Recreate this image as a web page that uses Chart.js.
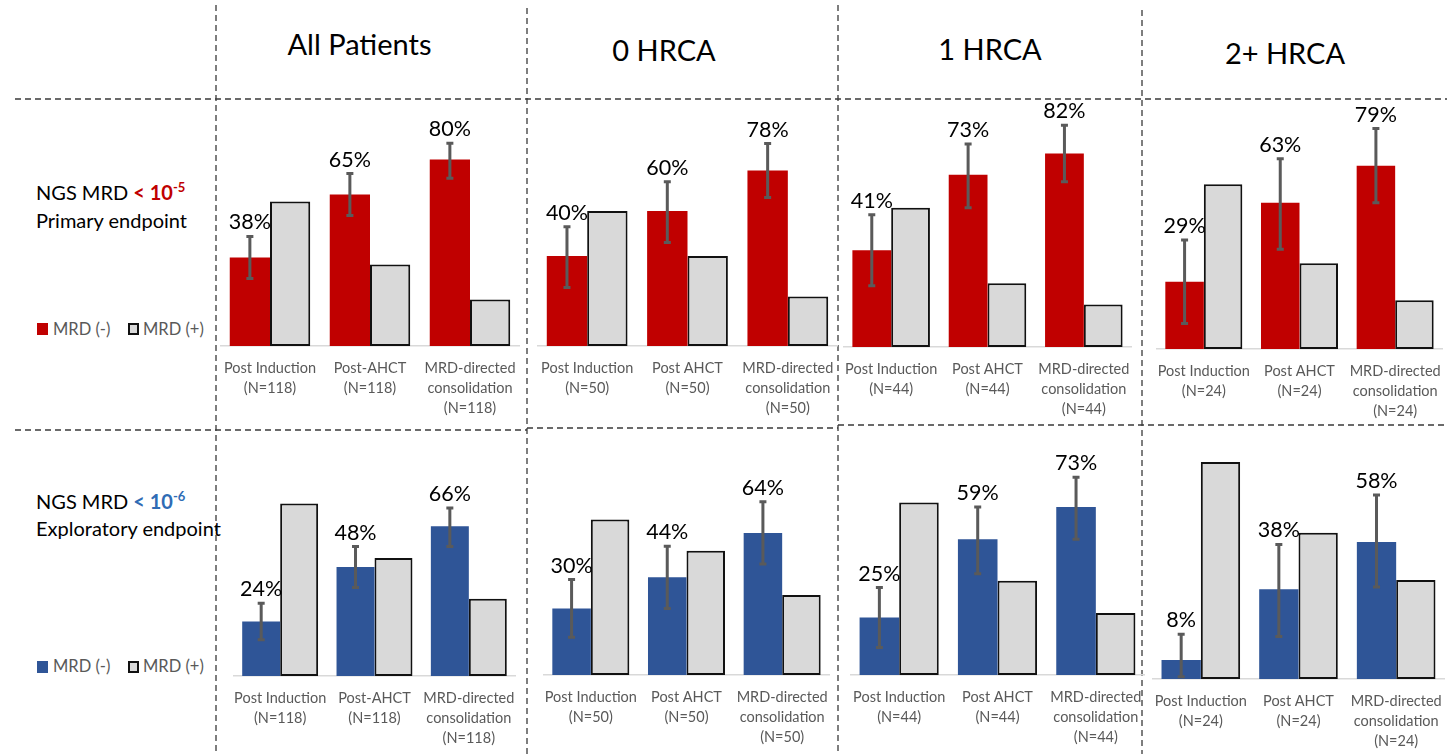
<!DOCTYPE html>
<html>
<head>
<meta charset="utf-8">
<script src="https://cdn.jsdelivr.net/npm/chart.js@4.4.1/dist/chart.umd.min.js"></script>
<style>
  html, body { margin: 0; padding: 0; background: #fff; overflow: hidden; }
  #fig { position: relative; width: 1447px; height: 754px; overflow: hidden; font-family: Lato, "Noto Sans", sans-serif; }
  #fig canvas { position: absolute; }
  #grid { position: absolute; left: 0; top: 0; }
  .hdr { position: absolute; font-size: 29px; line-height: 1; color: #000; transform: translate(-50%, -50%); white-space: nowrap; }
  .rowlab { position: absolute; left: 36px; font-size: 20px; line-height: 1; color: #000; white-space: nowrap; }
  .hl { font-weight: 700; }
  .hl .sup { position: relative; top: -8px; font-size: 13px; }
  .red { color: #c00000; }
  .blue { color: #2f6cb5; }
  .sw { position: absolute; width: 11px; height: 12px; box-sizing: border-box; }
  .sw.pos { background: #d9d9d9; border: 2px solid #111; }
  .lgt { position: absolute; font-size: 16.5px; line-height: 1; color: #595959; white-space: nowrap; }
</style>
</head>
<body>
<div id="fig">
  <svg id="grid" width="1447" height="754"></svg>

  <div class="hdr" style="left:359.5px; top:43px;">All Patients</div>
  <div class="hdr" style="left:664px; top:49px;">0 HRCA</div>
  <div class="hdr" style="left:990px; top:48px;">1 HRCA</div>
  <div class="hdr" style="left:1285px; top:52px;">2+ HRCA</div>

  <div class="rowlab" style="top:182px;">NGS MRD <span class="hl red">&lt; 10<span class="sup">-5</span></span></div>
  <div class="rowlab" style="top:209.5px;">Primary endpoint</div>
  <div class="rowlab" style="top:491px;">NGS MRD <span class="hl blue">&lt; 10<span class="sup">-6</span></span></div>
  <div class="rowlab" style="top:517.5px;">Exploratory endpoint</div>

  <div class="sw" style="left:37px; top:323.4px; background:#c00000;"></div>
  <div class="lgt" style="left:53px; top:320.6px;">MRD (-)</div>
  <div class="sw pos" style="left:127.5px; top:323.4px;"></div>
  <div class="lgt" style="left:143px; top:320.6px;">MRD (+)</div>

  <div class="sw" style="left:37px; top:661px; background:#2f5597;"></div>
  <div class="lgt" style="left:53px; top:658.3px;">MRD (-)</div>
  <div class="sw pos" style="left:127.5px; top:661px;"></div>
  <div class="lgt" style="left:143px; top:658.3px;">MRD (+)</div>
</div>

<script>
// ---- data -------------------------------------------------------------
const groups = ['All Patients', '0 HRCA', '1 HRCA', '2+ HRCA'];
const groupN = ['(N=118)', '(N=50)', '(N=44)', '(N=24)'];
const ahctLabel = ['Post-AHCT', 'Post AHCT', 'Post AHCT', 'Post AHCT'];

// MRD < 10^-5 (primary endpoint), percent of patients
const neg5 = [[38, 65, 80], [40, 60, 78], [41, 73, 82], [29, 63, 79]];
const pos5 = [[62, 35, 20], [60, 40, 22], [59, 27, 18], [71, 37, 21]];
const ciLow5 = [[29, 56, 72], [26, 46, 66], [26, 59, 70], [11, 43, 63]];
const ciHigh5 = [[47, 74, 87], [53, 73, 90], [56, 86, 94], [47, 82, 95]];

// MRD < 10^-6 (exploratory endpoint), percent of patients
const neg6 = [[24, 48, 66], [30, 44, 64], [25, 59, 73], [8, 38, 58]];
const pos6 = [[76, 52, 34], [70, 56, 36], [75, 41, 27], [92, 62, 42]];
const ciLow6 = [[16, 39, 57], [17, 30, 50], [12, 44, 59], [1, 18, 39]];
const ciHigh6 = [[32, 57, 74], [43, 58, 78], [38, 73, 86], [19, 57, 78]];

// ---- layout -----------------------------------------------------------
// [axis left, axis right, y of 100%, baseline y] for each panel
const framesTop = [[220.3, 520.3, 113, 346.3], [537.2, 837.8, 120.7, 345.7], [843.1, 1132.2, 110.8, 347.3], [1155.5, 1442.9, 116.7, 348.7]];
const framesBottom = [[232.9, 516.3, 449.2, 675.7], [543.2, 830, 452.5, 675], [849.7, 1144.3, 444.5, 675], [1152.1, 1444.8, 443.3, 679.3]];
const PAD_T = 50;   // room above the 100% line for value labels
const LAB_H = 80;   // room below the baseline for category labels

const RED = '#c00000', BLUE = '#2f5597', GREY = '#d9d9d9';

// dashed frame lines
(function drawGrid() {
  const svg = document.getElementById('grid');
  const segs = [
    [216, 5, 216, 754], [527, 8, 527, 754], [838, 5, 838, 754], [1142, 10, 1142, 754],
    [15, 99, 1447, 99],
    [15, 430, 527, 430], [527, 428, 838, 428], [838, 425, 1447, 425]
  ];
  segs.forEach(([x1, y1, x2, y2]) => {
    const l = document.createElementNS('http://www.w3.org/2000/svg', 'line');
    l.setAttribute('x1', x1); l.setAttribute('y1', y1);
    l.setAttribute('x2', x2); l.setAttribute('y2', y2);
    l.setAttribute('stroke', '#3a3a3a');
    l.setAttribute('stroke-width', '1.3');
    l.setAttribute('stroke-dasharray', '6 4');
    svg.appendChild(l);
  });
})();

// error bars and value labels on the MRD(-) bars
const errorBars = {
  id: 'errorBars',
  afterDatasetsDraw(chart) {
    const ds = chart.data.datasets[0];
    const meta = chart.getDatasetMeta(0);
    const y = chart.scales.y;
    const ctx = chart.ctx;
    ctx.save();
    meta.data.forEach((bar, i) => {
      const yHi = y.getPixelForValue(ds.ciHigh[i]);
      const yLo = y.getPixelForValue(ds.ciLow[i]);
      ctx.strokeStyle = '#5a5a5a';
      ctx.lineWidth = 3;
      ctx.beginPath();
      ctx.moveTo(bar.x, yHi); ctx.lineTo(bar.x, yLo);
      ctx.moveTo(bar.x - 3.5, yHi); ctx.lineTo(bar.x + 3.5, yHi);
      ctx.moveTo(bar.x - 3.5, yLo); ctx.lineTo(bar.x + 3.5, yLo);
      ctx.stroke();
      ctx.fillStyle = '#000';
      ctx.font = '21.5px Lato';
      ctx.textAlign = 'center';
      ctx.textBaseline = 'alphabetic';
      ctx.fillText(ds.data[i] + '%', bar.x, yHi - 7);
    });
    ctx.restore();
  }
};

function tickLabels(c) {
  return [
    ['Post Induction', groupN[c]],
    [ahctLabel[c], groupN[c]],
    ['MRD-directed', 'consolidation', groupN[c]]
  ];
}

function panel(frame, c, neg, pos, lo, hi, color) {
  const [l, r, t100, base] = frame;
  const cv = document.createElement('canvas');
  const left = Math.round(l), width = Math.round(r - l);
  const top = Math.round(t100 - PAD_T);
  const height = Math.round(base - top + LAB_H);
  cv.width = width; cv.height = height;
  cv.style.left = left + 'px'; cv.style.top = top + 'px';
  cv.style.width = width + 'px'; cv.style.height = height + 'px';
  document.getElementById('fig').appendChild(cv);
  const padTop = Math.round(height - LAB_H - (base - t100));

  new Chart(cv, {
    type: 'bar',
    data: {
      labels: tickLabels(c),
      datasets: [
        { label: 'MRD (-)', data: neg[c], backgroundColor: color, borderWidth: 0, ciLow: lo[c], ciHigh: hi[c] },
        { label: 'MRD (+)', data: pos[c], backgroundColor: GREY, borderColor: '#111', borderWidth: 2, borderSkipped: false }
      ]
    },
    options: {
      responsive: false,
      animation: false,
      devicePixelRatio: 1,
      layout: { padding: { top: padTop, left: 0, right: 0, bottom: 0 } },
      datasets: { bar: { categoryPercentage: 0.805, barPercentage: 1 } },
      plugins: { legend: { display: false }, tooltip: { enabled: false } },
      scales: {
        x: {
          grid: { display: true, color: 'rgba(0,0,0,0)', drawTicks: false },
          border: { display: true, color: '#d9d9d9', width: 1.5 },
          ticks: {
            color: '#595959',
            font: { family: 'Lato', size: 14.5, lineHeight: 1.38 },
            padding: 12, autoSkip: false, maxRotation: 0, minRotation: 0
          },
          afterFit(s) { s.height = LAB_H; s.paddingLeft = 0; s.paddingRight = 0; }
        },
        y: { display: false, min: 0, max: 100 }
      }
    },
    plugins: [errorBars]
  });
}

groups.forEach((g, c) => {
  panel(framesTop[c], c, neg5, pos5, ciLow5, ciHigh5, RED);
  panel(framesBottom[c], c, neg6, pos6, ciLow6, ciHigh6, BLUE);
});
</script>
</body>
</html>
